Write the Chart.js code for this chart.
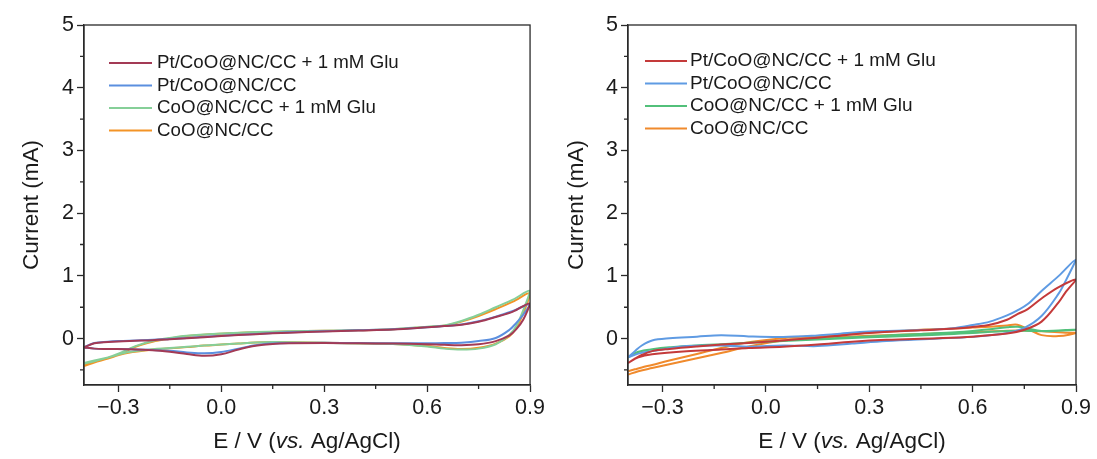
<!DOCTYPE html>
<html>
<head>
<meta charset="utf-8">
<script src="https://cdn.jsdelivr.net/npm/chart.js@4.4.0/dist/chart.umd.min.js"></script>
<style>
  html, body { margin: 0; padding: 0; background: #fff; }
  #wrap { position: relative; width: 1097px; height: 459px; }
  #left { position: absolute; left: 0; top: 0; }
  #right { position: absolute; left: 548px; top: 0; }
</style>
</head>
<body>
<div id="wrap">
  <canvas id="left" width="548" height="459"></canvas>
  <canvas id="right" width="549" height="459"></canvas>
</div>
<script>
// series names (legend order)
const seriesNames = ['Pt/CoO@NC/CC + 1 mM Glu', 'Pt/CoO@NC/CC', 'CoO@NC/CC + 1 mM Glu', 'CoO@NC/CC'];

// axis ticks
const xTicks = [-0.3, 0, 0.3, 0.6, 0.9];
const xTickLabels = ['\u22120.3', '0.0', '0.3', '0.6', '0.9'];
const xMinor = [-0.15, 0.15, 0.45, 0.75];
const yTicks = [0, 1, 2, 3, 4, 5];
const yTickLabels = ['0', '1', '2', '3', '4', '5'];
const yMinor = [-0.5, 0.5, 1.5, 2.5, 3.5, 4.5];

// left panel: potentials of the positive (upper) and negative (lower) scan
const leftFwdE = [-0.4, -0.37, -0.33, -0.3, -0.25, -0.2, -0.15, -0.1, 0, 0.1, 0.2, 0.3, 0.4, 0.5, 0.6, 0.65, 0.7, 0.75, 0.8, 0.85, 0.9];
const leftRevE = [0.88, 0.86, 0.84, 0.8, 0.75, 0.7, 0.65, 0.6, 0.5, 0.4, 0.3, 0.2, 0.15, 0.1, 0.05, 0, -0.05, -0.1, -0.15, -0.2, -0.27, -0.33, -0.37, -0.4];

const leftRedFwd = [-0.14, -0.075, -0.055, -0.045, -0.035, -0.025, -0.01, 0.005, 0.04, 0.07, 0.095, 0.115, 0.13, 0.145, 0.18, 0.2, 0.22, 0.27, 0.345, 0.43, 0.56];
const leftRedRev = [0.3, 0.15, 0.05, -0.04, -0.09, -0.105, -0.1, -0.09, -0.08, -0.075, -0.07, -0.075, -0.085, -0.115, -0.175, -0.25, -0.275, -0.245, -0.21, -0.185, -0.17, -0.165, -0.16, -0.14];
const leftBlueFwd = [-0.14, -0.07, -0.05, -0.04, -0.03, -0.02, -0.005, 0.01, 0.045, 0.075, 0.1, 0.118, 0.132, 0.148, 0.18, 0.2, 0.225, 0.275, 0.35, 0.44, 0.55];
const leftBlueRev = [0.38, 0.25, 0.14, 0.01, -0.04, -0.065, -0.072, -0.075, -0.075, -0.072, -0.068, -0.072, -0.08, -0.105, -0.16, -0.215, -0.235, -0.22, -0.195, -0.18, -0.17, -0.165, -0.16, -0.14];
const leftGreenFwd = [-0.4, -0.36, -0.3, -0.24, -0.12, -0.04, 0.01, 0.045, 0.08, 0.105, 0.118, 0.125, 0.135, 0.15, 0.19, 0.21, 0.28, 0.38, 0.5, 0.62, 0.76];
const leftGreenRev = [0.45, 0.2, 0.06, -0.09, -0.16, -0.175, -0.16, -0.125, -0.088, -0.077, -0.068, -0.058, -0.056, -0.062, -0.078, -0.095, -0.112, -0.132, -0.152, -0.168, -0.215, -0.3, -0.35, -0.39];
const leftOrangeFwd = [-0.44, -0.38, -0.32, -0.26, -0.13, -0.05, 0.0, 0.04, 0.078, 0.102, 0.115, 0.123, 0.132, 0.148, 0.185, 0.205, 0.27, 0.36, 0.47, 0.59, 0.72];
const leftOrangeRev = [0.4, 0.17, 0.04, -0.08, -0.145, -0.165, -0.15, -0.12, -0.086, -0.076, -0.068, -0.058, -0.056, -0.062, -0.078, -0.095, -0.112, -0.135, -0.155, -0.175, -0.225, -0.31, -0.37, -0.43];

// right panel
const rightFwdE = [-0.4, -0.38, -0.36, -0.33, -0.28, -0.2, -0.13, -0.05, 0.05, 0.15, 0.2, 0.3, 0.45, 0.55, 0.6, 0.65, 0.7, 0.73, 0.76, 0.8, 0.85, 0.9];
const rightRevE = [0.87, 0.85, 0.8, 0.75, 0.7, 0.6, 0.5, 0.35, 0.25, 0.15, 0.05, -0.05, -0.13, -0.23, -0.33, -0.37, -0.4];

const rightRedFwd = [-0.39, -0.32, -0.26, -0.2, -0.165, -0.125, -0.096, -0.07, -0.03, 0.015, 0.04, 0.09, 0.133, 0.16, 0.185, 0.22, 0.3, 0.39, 0.47, 0.64, 0.82, 0.94];
const rightRedRev = [0.74, 0.58, 0.27, 0.14, 0.08, 0.03, 0.005, -0.02, -0.05, -0.095, -0.13, -0.15, -0.175, -0.2, -0.25, -0.3, -0.39];
const rightBlueFwd = [-0.3, -0.2, -0.11, -0.03, 0.005, 0.03, 0.053, 0.035, 0.027, 0.05, 0.07, 0.115, 0.135, 0.17, 0.215, 0.27, 0.37, 0.45, 0.55, 0.76, 1.0, 1.26];
const rightBlueRev = [0.92, 0.72, 0.36, 0.17, 0.09, 0.03, 0.0, -0.04, -0.08, -0.12, -0.11, -0.13, -0.11, -0.12, -0.2, -0.24, -0.3];
const rightGreenFwd = [-0.3, -0.24, -0.2, -0.17, -0.14, -0.11, -0.09, -0.065, -0.04, -0.01, 0.005, 0.035, 0.075, 0.1, 0.12, 0.15, 0.18, 0.19, 0.16, 0.12, 0.125, 0.14];
const rightGreenRev = [0.135, 0.13, 0.12, 0.125, 0.12, 0.09, 0.06, 0.03, 0.01, -0.015, -0.04, -0.065, -0.09, -0.12, -0.17, -0.21, -0.3];
const rightOrangeFwd = [-0.52, -0.49, -0.46, -0.42, -0.35, -0.245, -0.15, -0.06, 0.005, 0.04, 0.06, 0.095, 0.14, 0.16, 0.175, 0.19, 0.21, 0.22, 0.15, 0.055, 0.04, 0.09];
const rightOrangeRev = [0.095, 0.1, 0.115, 0.13, 0.125, 0.1, 0.08, 0.055, 0.035, 0.01, -0.03, -0.125, -0.23, -0.35, -0.47, -0.52, -0.575];

const leftColors = ['#a33a55', '#5b8fdf', '#86cf98', '#f39426'];
const rightColors = ['#c43a3a', '#5f9be3', '#52c07a', '#f08a2c'];

const fontFamily = '"Liberation Sans", Arial, Helvetica, sans-serif';
const axisColor = '#2a2a2a';
const textColor = '#1a1a1a';

function loop(fwdE, fwdI, revE, revI) {
    const pts = fwdE.map((e, i) => ({ x: e, y: fwdI[i] }));
    return pts.concat(revE.map((e, i) => ({ x: e, y: revI[i] })));
}

// frame, minor ticks, x title with italic "vs.", legend
const decor = {
    id: 'decor',
    afterDraw(chart, args, opts) {
        const { ctx, chartArea: a } = chart;
        const x = chart.scales.x, y = chart.scales.y;
        ctx.save();
        ctx.strokeStyle = axisColor;
        ctx.lineWidth = 1.3;
        ctx.strokeRect(a.left, a.top, a.right - a.left, a.bottom - a.top);

        ctx.beginPath();
        xMinor.forEach(v => {
            const px = x.getPixelForValue(v);
            ctx.moveTo(px, a.bottom); ctx.lineTo(px, a.bottom + 4);
        });
        yMinor.forEach(v => {
            const py = y.getPixelForValue(v);
            ctx.moveTo(a.left, py); ctx.lineTo(a.left - 4, py);
        });
        ctx.stroke();

        // x axis title
        const parts = [['E / V (', 'normal'], ['vs.', 'italic'], [' Ag/AgCl)', 'normal']];
        ctx.fillStyle = textColor;
        ctx.textBaseline = 'middle';
        ctx.textAlign = 'left';
        let total = 0;
        parts.forEach(p => { ctx.font = p[1] + ' 22.5px ' + fontFamily; total += ctx.measureText(p[0]).width; });
        let tx = (a.left + a.right) / 2 - total / 2;
        parts.forEach(p => {
            ctx.font = p[1] + ' 22.5px ' + fontFamily;
            ctx.fillText(p[0], tx, opts.titleY);
            tx += ctx.measureText(p[0]).width;
        });

        // legend
        ctx.font = opts.legendSize + 'px ' + fontFamily;
        chart.data.datasets.forEach((ds, i) => {
            const ly = opts.legendY + i * opts.legendGap;
            ctx.strokeStyle = ds.borderColor;
            ctx.lineWidth = 1.8;
            ctx.beginPath();
            ctx.moveTo(opts.lineX0, ly); ctx.lineTo(opts.lineX1, ly);
            ctx.stroke();
            ctx.fillText(ds.label, opts.textX, ly);
        });
        ctx.restore();
    }
};

function makeChart(id, curves, colors, cfg) {
    const datasets = curves.map((pts, i) => ({
        label: seriesNames[i],
        data: pts,
        borderColor: colors[i],
        borderWidth: 2,
        pointRadius: 0,
        showLine: true,
        tension: 0.35,
        fill: false
    }));
    return new Chart(document.getElementById(id).getContext('2d'), {
        type: 'scatter',
        data: { datasets: datasets },
        options: {
            responsive: false,
            animation: false,
            layout: { padding: { left: 0, top: 25, right: cfg.padRight, bottom: 0 } },
            plugins: {
                legend: { display: false },
                tooltip: { enabled: false },
                decor: cfg.decor
            },
            scales: {
                x: {
                    type: 'linear', min: -0.4, max: 0.9,
                    afterFit: s => { s.height = 74; },
                    afterBuildTicks: s => { s.ticks = xTicks.map(v => ({ value: v })); },
                    grid: { drawOnChartArea: false, drawTicks: true, tickLength: 7, tickColor: axisColor, tickWidth: 1.3 },
                    border: { color: axisColor, width: 1.3 },
                    ticks: {
                        callback: (v, i) => xTickLabels[i],
                        font: { family: fontFamily, size: 21.5 }, color: textColor,
                        padding: 3, maxRotation: 0, autoSkip: false
                    },
                    title: { display: false }
                },
                y: {
                    type: 'linear', min: -0.74, max: 5,
                    afterFit: s => { s.width = cfg.yWidth; },
                    afterBuildTicks: s => { s.ticks = yTicks.map(v => ({ value: v })); },
                    grid: { drawOnChartArea: false, drawTicks: true, tickLength: 7, tickColor: axisColor, tickWidth: 1.3 },
                    border: { color: axisColor, width: 1.3 },
                    ticks: {
                        callback: (v, i) => yTickLabels[i],
                        font: { family: fontFamily, size: 21.5 }, color: textColor,
                        padding: 3, autoSkip: false
                    },
                    title: {
                        display: true, text: 'Current (mA)',
                        font: { family: fontFamily, size: 22.5 }, color: textColor,
                        padding: { top: cfg.yTitlePad, bottom: 0 }
                    }
                }
            }
        },
        plugins: [decor]
    });
}

makeChart('left', [
    loop(leftFwdE, leftRedFwd, leftRevE, leftRedRev),
    loop(leftFwdE, leftBlueFwd, leftRevE, leftBlueRev),
    loop(leftFwdE, leftGreenFwd, leftRevE, leftGreenRev),
    loop(leftFwdE, leftOrangeFwd, leftRevE, leftOrangeRev)
], leftColors, {
    padRight: 16, yWidth: 84, yTitlePad: 18,
    decor: { titleY: 442, legendY: 63, legendGap: 22.5, legendSize: 18.7, lineX0: 109, lineX1: 152, textX: 157 }
});

makeChart('right', [
    loop(rightFwdE, rightRedFwd, rightRevE, rightRedRev),
    loop(rightFwdE, rightBlueFwd, rightRevE, rightBlueRev),
    loop(rightFwdE, rightGreenFwd, rightRevE, rightGreenRev),
    loop(rightFwdE, rightOrangeFwd, rightRevE, rightOrangeRev)
], rightColors, {
    padRight: 21, yWidth: 80, yTitlePad: 15.5,
    decor: { titleY: 442, legendY: 61, legendGap: 22.5, legendSize: 19, lineX0: 97, lineX1: 139, textX: 142 }
});
</script>
</body>
</html>
